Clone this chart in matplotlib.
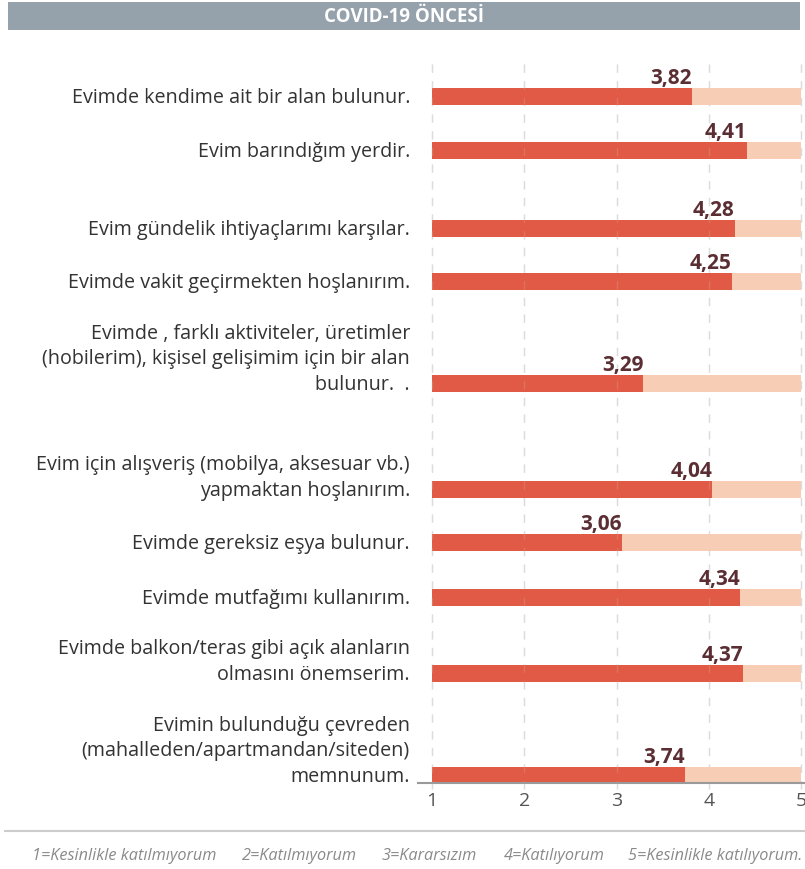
import matplotlib.pyplot as plt
import matplotlib.patches as patches

# --- data ---
statements = [
    "Evimde kendime ait bir alan bulunur.",
    "Evim barındığım yerdir.",
    "Evim gündelik ihtiyaçlarımı karşılar.",
    "Evimde vakit geçirmekten hoşlanırım.",
    "Evimde , farklı aktiviteler, üretimler\n(hobilerim), kişisel gelişimim için bir alan\nbulunur.  .",
    "Evim için alışveriş (mobilya, aksesuar vb.)\nyapmaktan hoşlanırım.",
    "Evimde gereksiz eşya bulunur.",
    "Evimde mutfağımı kullanırım.",
    "Evimde balkon/teras gibi açık alanların\nolmasını önemserim.",
    "Evimin bulunduğu çevreden\n(mahalleden/apartmandan/siteden)\nmemnunum.",
]
scores = [3.82, 4.41, 4.28, 4.25, 3.29, 4.04, 3.06, 4.34, 4.37, 3.74]
scale_ticks = [1, 2, 3, 4, 5]
scale_legend = [
    "1=Kesinlikle katılmıyorum",
    "2=Katılmıyorum",
    "3=Kararsızım",
    "4=Katılıyorum",
    "5=Kesinlikle katılıyorum.",
]
title = "COVID-19 ÖNCESİ"

# --- layout (pixel rows of the bars, legend x positions) ---
row_y = [97, 151, 229, 282, 384, 490, 543, 598, 674, 776]
legend_x = [32, 242, 382, 504, 628]

W, H = 805, 870
plt.rcParams['font.family'] = ['Open Sans', 'DejaVu Sans']

RED = '#E05A45'
PEACH = '#F7CDB6'
VALUE_COL = '#5A2E33'

fig = plt.figure(figsize=(W / 100, H / 100), dpi=100)
fig.patch.set_facecolor('white')

# title banner
fig.patches.append(patches.Rectangle((8 / W, 1 - 31 / H), 792 / W, 28 / H,
                                     transform=fig.transFigure, facecolor='#95A1AB',
                                     edgecolor='none'))
fig.text(404 / W, 1 - 17 / H, title, ha='center', va='center', color='white',
         fontsize=13.5, fontweight='bold')

# main axes in pixel rows
x0, x1 = 432, 801
top, bot = 62, 784
ax = fig.add_axes([x0 / W, 1 - bot / H, (x1 - x0) / W, (bot - top) / H])
ax.set_xlim(1, 5)
ax.set_ylim(bot, top)
for s in ax.spines.values():
    s.set_visible(False)
ax.set_yticks([])
ax.set_xticks(scale_ticks)
ax.set_xticklabels([str(t) for t in scale_ticks], fontsize=14, color='#555555')
ax.tick_params(axis='x', length=0, pad=6)

bar_h = 17
ax.barh(row_y, [scale_ticks[-1] - scale_ticks[0]] * len(row_y), left=scale_ticks[0],
        height=bar_h, color=PEACH, zorder=1)
ax.barh(row_y, [v - scale_ticks[0] for v in scores], left=scale_ticks[0],
        height=bar_h, color=RED, zorder=2)

# dashed grid lines
ax.vlines(scale_ticks, 65, 794, colors='#DDDDDD', linestyles=(0, (6, 6)),
          linewidth=1, zorder=0, clip_on=False)
ax.vlines(scale_ticks, 65, 794, colors='#D8D8D8', linestyles=(0, (6, 6)),
          linewidth=1, zorder=3, alpha=0.2, clip_on=False)

# bottom axis line
px = (x1 - x0) / 4
ax.plot([1 + (418 - x0) / px, 1 + (805 - x0) / px], [784, 784], color='#9A9A9A',
        linewidth=1.5, clip_on=False, zorder=4)

for y, v, lab in zip(row_y, scores, statements):
    ax.text(v, y - 13, f"{v:.2f}".replace('.', ','), ha='right', va='baseline',
            fontsize=15, fontweight='bold', color=VALUE_COL)
    ax.text(1 + (410 - x0) / px, y + 11, lab, ha='right', va='bottom',
            fontsize=14.2, color='#333333', linespacing=1.38, clip_on=False)

# footer
fig.add_artist(plt.Line2D([5 / W, 1], [1 - 832 / H, 1 - 832 / H],
                          transform=fig.transFigure, color='#CCCCCC', linewidth=1.5))
for lx, txt in zip(legend_x, scale_legend):
    fig.text(lx / W, 1 - 856 / H, txt, ha='left', va='center', fontsize=11.7,
             fontstyle='italic', color='#8A8A8A')

fig.savefig('out.png', dpi=100)
